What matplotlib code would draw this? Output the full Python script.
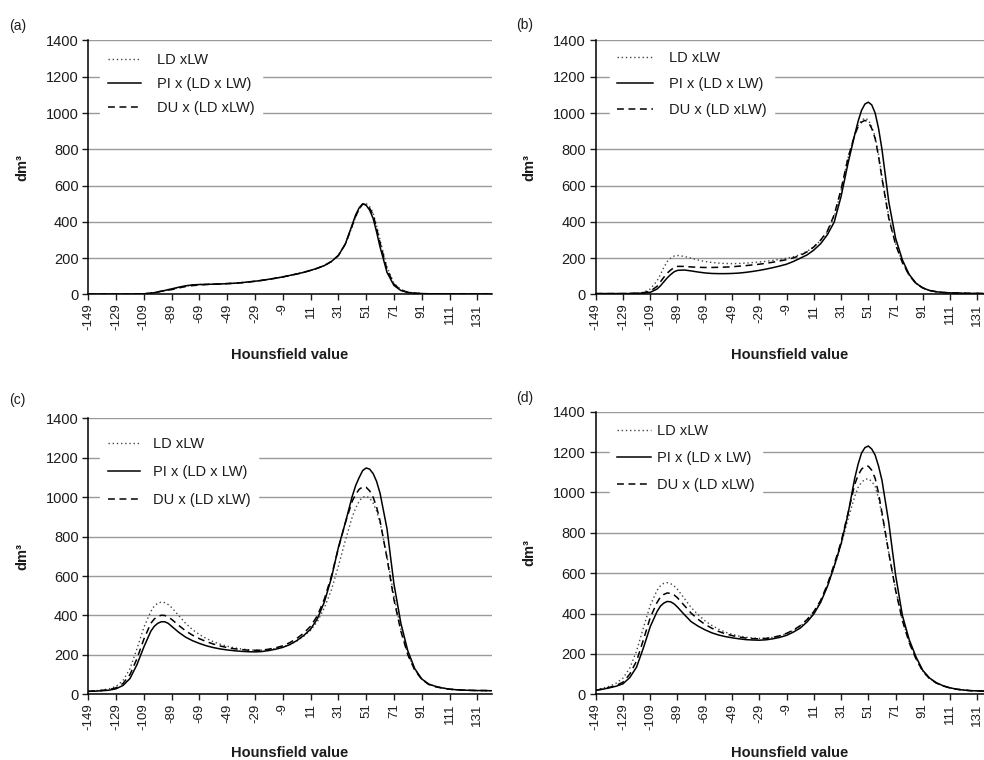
"""Four-panel Hounsfield histogram (LD xLW / PI / DU), redrawn from the reference figure."""
import matplotlib
matplotlib.use("Agg")
import matplotlib.pyplot as plt

plt.rcParams["font.family"] = ["Liberation Sans", "DejaVu Sans"]

# ---- data (dm3 per Hounsfield value) ----
hu = [-149, -144, -139, -134, -129, -124, -119, -114, -109, -104,
      -101.5, -99, -96.5, -94, -91.5, -89, -84, -79, -74, -69,
      -64, -59, -54, -49, -44, -39, -34, -29, -24, -19,
      -14, -9, -4, 1, 6, 11, 16, 21, 26, 31,
      36, 41, 43.5, 46, 48.5, 51, 53.5, 56, 58.5, 61,
      66, 71, 76, 81, 86, 91, 96, 101, 106, 111,
      116, 121, 126, 131, 136, 141]

tick_values = [-149, -129, -109, -89, -69, -49, -29, -9, 11, 31, 51, 71, 91, 111, 131]
tick_labels = [str(v) for v in tick_values]
series_labels = ["LD xLW", "PI x (LD x LW)", "DU x (LD xLW)"]

# (a)
a_ld = [2, 2, 2, 2, 2, 2, 2, 3, 4, 7,
        10, 14, 18, 22, 25, 28, 37, 45, 53, 55,
        56, 57, 58, 60, 62, 65, 69, 73, 78, 84,
        90, 97, 105, 113, 122, 133, 145, 160, 182, 215,
        278, 375, 428, 470, 497, 500, 485, 450, 380, 300,
        150, 62, 27, 13, 8, 5, 4, 4, 4, 3,
        3, 3, 3, 3, 3, 3]
a_pi = [2, 2, 2, 2, 2, 2, 2, 3, 4, 7,
        10, 14, 18, 22, 27, 31, 40, 48, 53, 55,
        56, 57, 58, 60, 62, 65, 69, 73, 78, 84,
        90, 97, 105, 113, 122, 133, 145, 160, 182, 215,
        278, 385, 440, 478, 500, 492, 465, 420, 345, 262,
        122, 50, 22, 11, 7, 5, 4, 4, 4, 3,
        3, 3, 3, 3, 3, 3]
a_du = [2, 2, 2, 2, 2, 2, 2, 3, 4, 7,
        10, 14, 18, 22, 24, 27, 36, 44, 49, 52,
        55, 57, 58, 60, 62, 65, 69, 73, 78, 84,
        90, 97, 105, 113, 122, 133, 145, 160, 182, 215,
        278, 380, 432, 472, 498, 496, 475, 440, 365, 285,
        138, 57, 25, 12, 7, 5, 4, 4, 4, 3,
        3, 3, 3, 3, 3, 3]

# (b)
b_ld = [5, 5, 5, 5, 5, 6, 8, 12, 30, 75,
        110, 150, 182, 200, 212, 215, 210, 200, 190, 182,
        177, 173, 171, 170, 171, 173, 176, 179, 183, 188,
        194, 200, 208, 220, 238, 262, 298, 345, 430, 570,
        750, 885, 932, 960, 972, 962, 925, 870, 770, 650,
        430, 280, 178, 107, 61, 36, 22, 15, 11, 9,
        8, 7, 6, 6, 5, 5]
b_pi = [5, 5, 5, 5, 5, 5, 6, 8, 12, 30,
        48, 70, 92, 110, 125, 133, 135, 130, 124, 119,
        116, 115, 115, 116, 118, 122, 127, 133, 140, 148,
        157, 167, 182, 200, 218, 245, 280, 330, 400, 540,
        720, 880, 955, 1015, 1050, 1060, 1045, 1000, 915, 800,
        510, 310, 190, 110, 62, 36, 22, 15, 11, 9,
        8, 7, 6, 6, 5, 5]
b_du = [5, 5, 5, 5, 5, 6, 7, 10, 18, 45,
        70, 95, 118, 135, 148, 155, 155, 152, 150, 149,
        149, 150, 151, 153, 156, 159, 163, 167, 172, 178,
        185, 192, 202, 215, 235, 262, 300, 350, 440, 580,
        750, 880, 925, 950, 960, 950, 915, 860, 760, 640,
        420, 275, 175, 105, 60, 36, 22, 15, 11, 9,
        8, 7, 6, 6, 5, 5]

# (c)
c_ld = [15, 18, 22, 28, 40, 70, 130, 230, 340, 420,
        448, 462, 468, 465, 455, 440, 400, 360, 328, 303,
        283, 267, 254, 244, 236, 230, 226, 224, 224, 227,
        232, 240, 252, 270, 294, 325, 370, 440, 530, 650,
        780, 900, 945, 980, 1000, 1005, 995, 970, 930, 870,
        700, 500, 330, 205, 125, 78, 52, 40, 32, 26,
        23, 21, 20, 19, 19, 18]
c_pi = [15, 16, 18, 21, 28, 45, 80, 150, 240, 320,
        345, 360, 368, 368, 360, 345, 315, 290, 272, 258,
        246, 237, 230, 225, 221, 218, 216, 215, 217, 222,
        229, 238, 252, 272, 298, 330, 385, 470, 590, 745,
        870, 1005, 1060, 1100, 1135, 1148, 1142, 1120, 1080, 1020,
        840, 560, 360, 220, 130, 78, 52, 40, 32, 26,
        23, 21, 20, 19, 19, 18]
c_du = [15, 17, 20, 24, 33, 55, 100, 180, 280, 360,
        382, 395, 401, 400, 392, 380, 350, 322, 300, 282,
        267, 255, 245, 237, 231, 227, 224, 223, 224, 229,
        236, 246, 262, 283, 310, 345, 400, 485, 600, 740,
        870, 980, 1015, 1040, 1052, 1050, 1032, 1000, 950, 880,
        690, 480, 320, 200, 122, 76, 50, 38, 31, 26,
        23, 21, 20, 19, 19, 18]

# (d)
d_ld = [22, 30, 40, 55, 80, 130, 215, 330, 440, 515,
        538, 550, 553, 548, 537, 520, 475, 430, 395, 365,
        342, 323, 308, 297, 289, 283, 279, 277, 278, 282,
        290, 300, 316, 337, 366, 405, 460, 535, 630, 740,
        865, 980, 1025, 1050, 1065, 1068, 1055, 1030, 970, 890,
        700, 520, 370, 258, 178, 115, 78, 56, 41, 31,
        25, 21, 18, 17, 16, 16]
d_pi = [20, 25, 32, 40, 52, 83, 135, 230, 335, 410,
        437, 452, 460, 458, 448, 432, 395, 360, 338, 320,
        305, 294, 286, 280, 275, 271, 269, 268, 270, 275,
        282, 292, 308, 328, 358, 398, 455, 535, 635, 745,
        890, 1070, 1140, 1195, 1222, 1230, 1215, 1185, 1130, 1060,
        850, 590, 390, 270, 185, 118, 80, 57, 42, 32,
        25, 21, 18, 17, 16, 16]
d_du = [20, 26, 34, 44, 60, 100, 165, 270, 380, 455,
        482, 495, 502, 500, 492, 478, 440, 402, 372, 347,
        328, 312, 300, 291, 284, 279, 276, 275, 277, 282,
        290, 302, 318, 340, 370, 410, 465, 545, 645, 755,
        895, 1040, 1085, 1115, 1130, 1130, 1110, 1070, 995, 900,
        700, 515, 365, 255, 175, 113, 77, 55, 41, 31,
        25, 21, 18, 17, 16, 16]

panels = [
    ("(a)", a_ld, a_pi, a_du),
    ("(b)", b_ld, b_pi, b_du),
    ("(c)", c_ld, c_pi, c_du),
    ("(d)", d_ld, d_pi, d_du),
]

# ---- layout, in pixels of the 984x760 canvas: left, top, right, bottom ----
W, H = 984, 760
boxes = [(88.3, 40.5, 491.7, 294.5), (595.7, 40.5, 984, 294.5),
         (88.3, 418.3, 491.7, 694.3), (595.7, 411.7, 984, 694.3)]
px_per_hu = [389.0 / 280, 381.7 / 280, 389.0 / 280, 381.7 / 280]
label_pos = [(9, 26), (516, 25), (9, 400), (516, 398)]
# legend: anchor (axes fraction), labelspacing, handlelength, handletextpad
legend_cfg = [((0.030, 0.979), 0.67, 2.3, 1.1),
              ((0.036, 0.988), 0.84, 2.45, 1.1),
              ((0.030, 0.960), 0.98, 2.2, 0.9),
              ((0.036, 0.983), 0.91, 2.3, 0.45)]
xlabel_drop = [60.5, 60.5, 58.7, 58.7]
ylabel_left = 66

TEXT = "#1c1c1c"
fig = plt.figure(figsize=(W / 100, H / 100), dpi=100)

for i, (tag, ld, pi, du) in enumerate(panels):
    l, t, r, b = boxes[i]
    ax = fig.add_axes([l / W, 1 - b / H, (r - l) / W, (b - t) / H])
    wpx, hpx = r - l, b - t

    ax.plot(hu, ld, color="#444444", lw=1.0, dashes=(1.0, 2.0), label=series_labels[0], zorder=3)
    ax.plot(hu, pi, color="black", lw=1.1, label=series_labels[1], zorder=3)
    ax.plot(hu, du, color="black", lw=1.1, dashes=(4.5, 3.0), label=series_labels[2], zorder=3)

    ax.set_xlim(-149, -149 + wpx / px_per_hu[i])
    ax.set_ylim(0, 1400)
    ax.set_yticks(range(0, 1401, 200))
    ax.set_xticks(tick_values)
    ax.set_xticklabels(tick_labels, rotation=90)
    ax.tick_params(axis="x", labelsize=9.5, length=4, width=1.0, pad=2.5, colors=TEXT)
    ax.tick_params(axis="y", labelsize=10.5, length=4.5, width=1.0, pad=2.5, colors=TEXT)

    ax.grid(axis="y", color="#9a9a9a", lw=1.0, zorder=0)
    ax.set_axisbelow(True)
    for s in ("top", "right"):
        ax.spines[s].set_visible(False)
    for s in ("left", "bottom"):
        ax.spines[s].set_linewidth(1.1)
        ax.spines[s].set_color("black")

    ax.set_xlabel("Hounsfield value", fontsize=10.5, fontweight="bold", color=TEXT, va="center")
    ax.xaxis.set_label_coords(0.5, -xlabel_drop[i] / hpx)
    ax.set_ylabel("dm³", fontsize=10.5, fontweight="bold", color=TEXT, va="center")
    ax.yaxis.set_label_coords(-ylabel_left / wpx, 0.5)

    anchor, lsp, hlen, htp = legend_cfg[i]
    leg = ax.legend(loc="upper left", bbox_to_anchor=anchor, borderaxespad=0,
                    fontsize=10.5, frameon=True, fancybox=False, framealpha=1,
                    edgecolor="white", facecolor="white", borderpad=0.5,
                    labelspacing=lsp, handlelength=hlen, handletextpad=htp)
    for txt in leg.get_texts():
        txt.set_color(TEXT)
    leg.set_zorder(5)

    fig.text(label_pos[i][0] / W, 1 - label_pos[i][1] / H, tag, fontsize=10,
             color=TEXT, ha="left", va="center")

fig.savefig("out.png", dpi=100)
